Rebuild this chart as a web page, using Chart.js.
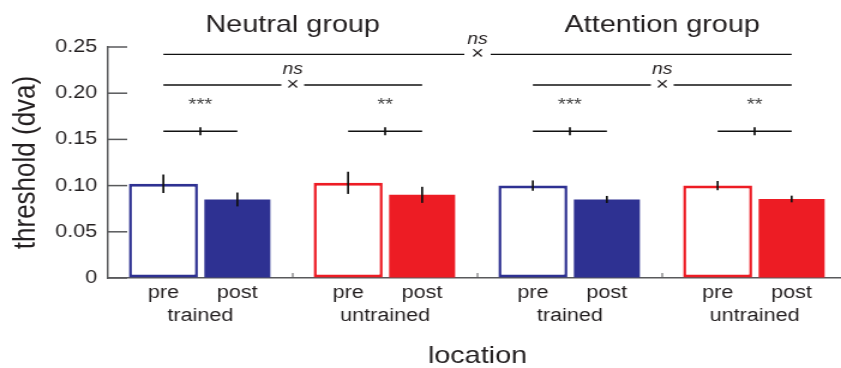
<!DOCTYPE html>
<html>
<head>
<meta charset="utf-8">
<script src="https://cdn.jsdelivr.net/npm/chart.js@4.4.0/dist/chart.umd.min.js"></script>
<style>
  html, body { margin: 0; padding: 0; background: #fff; overflow: hidden; }
  #grafico { display: block; }
</style>
</head>
<body>
<!-- canvas drawn narrower and stretched by CSS, like the wide-looking text in the figure -->
<canvas id="grafico" width="706" height="368" style="width:847px;height:368px"></canvas>
<script>
// Dados
const locais = ["trained", "untrained", "trained", "untrained"];
const condicoes = ["pre", "post"];
const valoresPre = [0.102, 0.103, 0.100, 0.100];
const valoresPost = [0.085, 0.090, 0.085, 0.0855];
const errosPre = [0.010, 0.012, 0.0056, 0.005];
const errosPost = [0.0075, 0.0087, 0.0038, 0.0036];
const coresLocal = ["#2e3192", "#ed1c24", "#2e3192", "#ed1c24"];
const titulosGrupo = ["Neutral group", "Attention group"];
const ticksY = [0, 0.05, 0.10, 0.15, 0.20, 0.25];
const rotulosY = ["0", "0.05", "0.10", "0.15", "0.20", "0.25"];

// Comparações (nível em dva)
const estrelasPar = ["***", "**", "***", "**"];
const nivelPar = 0.1588;
const nivelGrupo = 0.2089;
const rotuloGrupo = "ns";
const nivelGeral = 0.2421;
const rotuloGeral = "ns";

const FONTE = '"Liberation Sans", Arial, Helvetica, sans-serif';
const COR_TEXTO = "#231f20";
const COR_EIXO = "#58595b";

function linha(ctx, x1, y1, x2, y2) {
    ctx.beginPath();
    ctx.moveTo(x1, y1);
    ctx.lineTo(x2, y2);
    ctx.stroke();
}

// Desenha ticks, barras de erro, rótulos e comparações
const anotacoes = {
    id: "anotacoes",
    afterDraw(chart) {
        const ctx = chart.ctx;
        const sx = chart.scales.x;
        const sy = chart.scales.y;
        const area = chart.chartArea;
        const barrasPre = chart.getDatasetMeta(0).data;
        const barrasPost = chart.getDatasetMeta(1).data;
        const fronteira = i => (sx.getPixelForValue(i - 1) + sx.getPixelForValue(i)) / 2;

        ctx.save();

        // ticks internos do eixo y
        ctx.strokeStyle = COR_EIXO;
        ctx.lineWidth = 1.5;
        ticksY.forEach(v => {
            const py = sy.getPixelForValue(v);
            linha(ctx, area.left, py, area.left + 16, py);
        });
        // ticks pequenos entre locais
        ctx.lineWidth = 1;
        for (let i = 1; i < locais.length; i++) {
            const px = fronteira(i);
            linha(ctx, px, area.bottom, px, area.bottom - 5);
        }

        // barras de erro
        ctx.strokeStyle = "#111";
        ctx.lineWidth = 1.7;
        [[barrasPre, valoresPre, errosPre], [barrasPost, valoresPost, errosPost]].forEach(([barras, vals, errs]) => {
            barras.forEach((el, i) => {
                linha(ctx, el.x, sy.getPixelForValue(vals[i] + errs[i]), el.x, sy.getPixelForValue(vals[i] - errs[i]));
            });
        });

        // rótulos do eixo x
        ctx.fillStyle = COR_TEXTO;
        ctx.textAlign = "center";
        ctx.textBaseline = "alphabetic";
        ctx.font = "18px " + FONTE;
        locais.forEach((loc, i) => {
            ctx.fillText(condicoes[0], barrasPre[i].x, 298);
            ctx.fillText(condicoes[1], barrasPost[i].x, 298);
            ctx.fillText(loc, sx.getPixelForValue(i), 321);
        });

        // títulos dos grupos
        ctx.font = "24px " + FONTE;
        titulosGrupo.forEach((t, g) => {
            ctx.fillText(t, fronteira(2 * g + 1), 32);
        });

        // comparações pre x post
        ctx.strokeStyle = "#111";
        locais.forEach((loc, i) => {
            const x1 = barrasPre[i].x, x2 = barrasPost[i].x, meio = (x1 + x2) / 2;
            const py = sy.getPixelForValue(nivelPar);
            ctx.lineWidth = 1.3;
            linha(ctx, x1, py, x2, py);
            ctx.lineWidth = 1.7;
            linha(ctx, meio, py - 4, meio, py + 4);
            ctx.fillStyle = "#444";
            ctx.font = "17px " + FONTE;
            ctx.textBaseline = "alphabetic";
            ctx.fillText(estrelasPar[i], meio, py - 21);
        });

        // comparação com "x" no meio
        function comparacao(x1, x2, meio, valor, rotulo, folga) {
            const py = sy.getPixelForValue(valor);
            ctx.strokeStyle = "#111";
            ctx.lineWidth = 1.3;
            linha(ctx, x1, py, meio - folga, py);
            linha(ctx, meio + folga, py, x2, py);
            ctx.fillStyle = COR_TEXTO;
            ctx.font = "18px " + FONTE;
            ctx.textBaseline = "middle";
            ctx.fillText("\u00d7", meio, py);
            ctx.font = "italic 16px " + FONTE;
            ctx.textBaseline = "alphabetic";
            ctx.fillText(rotulo, meio, py - 10.5);
        }
        for (let g = 0; g < 2; g++) {
            comparacao(barrasPre[2 * g].x, barrasPost[2 * g + 1].x, fronteira(2 * g + 1), nivelGrupo, rotuloGrupo, 9.5);
        }
        comparacao(barrasPre[0].x, barrasPost[3].x, fronteira(2), nivelGeral, rotuloGeral, 11);

        ctx.restore();
    }
};

const grafico = new Chart(document.getElementById("grafico"), {
    type: "bar",
    data: {
        labels: locais,
        datasets: [{
            label: "pre",
            data: valoresPre,
            backgroundColor: "#ffffff",
            borderColor: coresLocal,
            borderWidth: { top: 3, bottom: 3, left: 2.5, right: 2.5 },
            borderSkipped: false,
            barPercentage: 0.932,
            categoryPercentage: 0.801
        }, {
            label: "post",
            data: valoresPost,
            backgroundColor: coresLocal,
            borderWidth: 0,
            barPercentage: 0.892,
            categoryPercentage: 0.801
        }]
    },
    options: {
        responsive: false,
        devicePixelRatio: 1,
        animation: false,
        layout: { padding: { top: 47, left: 0, right: 0, bottom: 0 } },
        plugins: {
            legend: { display: false },
            tooltip: { enabled: false }
        },
        scales: {
            x: {
                grid: { display: false },
                border: { display: true, color: COR_EIXO, width: 1.5 },
                ticks: { display: false },
                title: {
                    display: true,
                    text: "location",
                    color: COR_TEXTO,
                    font: { family: FONTE, size: 24, lineHeight: 1 },
                    padding: 0
                },
                afterFit: s => { s.height = 90; }
            },
            y: {
                min: 0,
                max: 0.25,
                grid: { drawOnChartArea: false, drawTicks: false },
                border: { display: true, color: COR_EIXO, width: 1.5 },
                ticks: {
                    stepSize: 0.05,
                    padding: 9,
                    color: COR_TEXTO,
                    font: { family: FONTE, size: 18 },
                    callback: (v, i) => rotulosY[i]
                },
                title: {
                    display: true,
                    text: "threshold (dva)",
                    color: COR_TEXTO,
                    font: { family: FONTE, size: 26, lineHeight: 1.2 },
                    padding: { top: 6, bottom: 0 }
                },
                afterFit: s => { s.width = 90; }
            }
        }
    },
    plugins: [anotacoes]
});
</script>
</body>
</html>
